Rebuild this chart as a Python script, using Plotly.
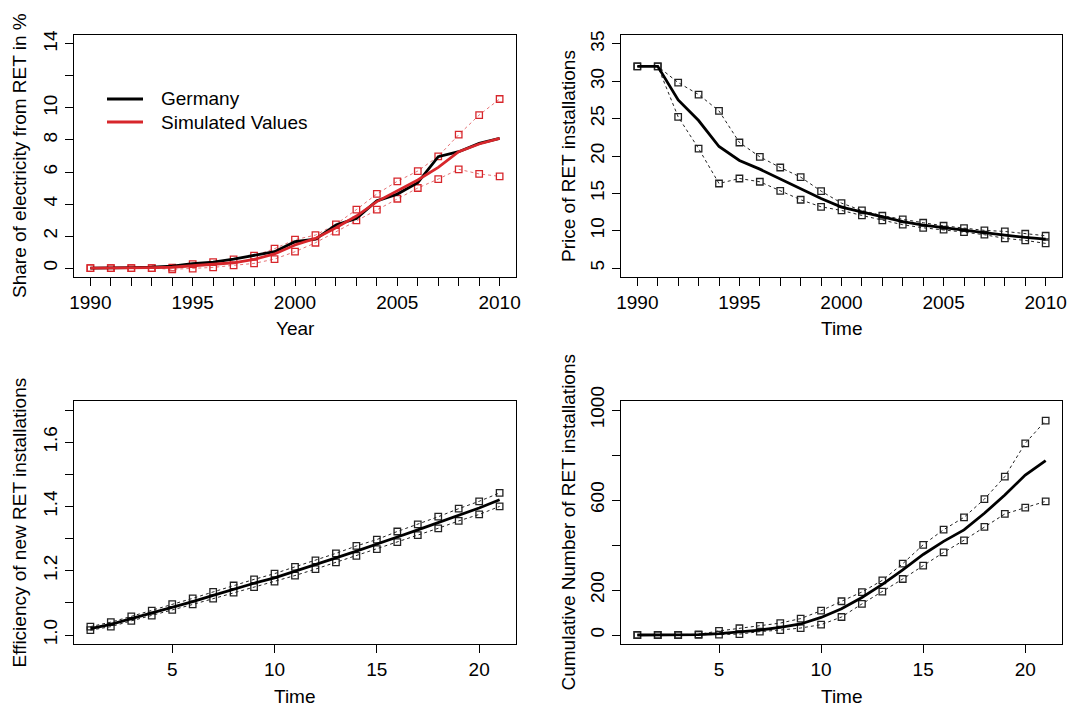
import plotly.graph_objects as go

# ---------------- data ----------------
years = list(range(1990, 2011))
steps = list(range(1, 22))

share_germany = [0, 0, 0.02, 0.05, 0.12, 0.27, 0.37, 0.56, 0.81, 1.02, 1.65, 1.81, 2.69, 3.1, 4.2, 4.62, 5.33, 6.96, 7.27, 7.79, 8.1]
share_sim = [0, 0, 0, 0.02, 0.05, 0.15, 0.23, 0.33, 0.54, 0.88, 1.44, 1.85, 2.52, 3.25, 4.15, 4.83, 5.5, 6.29, 7.27, 7.75, 8.1]
share_sim_hi = [0, 0, 0, 0, 0.02, 0.25, 0.37, 0.54, 0.77, 1.21, 1.77, 2.06, 2.73, 3.65, 4.63, 5.42, 6.06, 6.98, 8.33, 9.56, 10.56]
share_sim_lo = [0, 0, 0, 0, -0.08, -0.04, 0.04, 0.17, 0.29, 0.56, 1.02, 1.58, 2.27, 2.98, 3.65, 4.33, 5.0, 5.56, 6.17, 5.88, 5.73]

price_mid = [32, 32, 27.5, 24.75, 21.27, 19.4, 18.24, 16.95, 15.7, 14.32, 13.16, 12.49, 11.78, 11.2, 10.75, 10.39, 10.04, 9.68, 9.41, 9.1, 8.88]
price_hi = [32, 32, 29.83, 28.23, 26.04, 21.81, 19.89, 18.46, 17.17, 15.3, 13.69, 12.71, 12.0, 11.51, 11.06, 10.66, 10.35, 10.04, 9.9, 9.59, 9.32]
price_lo = [32, 32, 25.24, 21.0, 16.32, 16.99, 16.55, 15.34, 14.14, 13.2, 12.71, 12.04, 11.38, 10.8, 10.39, 10.13, 9.81, 9.46, 8.97, 8.7, 8.3]

eff_mid = [1.020, 1.033, 1.051, 1.068, 1.087, 1.104, 1.123, 1.143, 1.161, 1.178, 1.198, 1.218, 1.240, 1.261, 1.282, 1.305, 1.327, 1.350, 1.374, 1.395, 1.421]
eff_hi = [1.026, 1.040, 1.058, 1.076, 1.096, 1.114, 1.134, 1.154, 1.173, 1.191, 1.212, 1.232, 1.254, 1.277, 1.297, 1.322, 1.344, 1.368, 1.393, 1.416, 1.442]
eff_lo = [1.015, 1.026, 1.044, 1.060, 1.078, 1.095, 1.113, 1.132, 1.149, 1.166, 1.185, 1.205, 1.226, 1.246, 1.267, 1.289, 1.311, 1.332, 1.355, 1.375, 1.400]

cum_mid = [0, 0, 0, 2, 6, 13, 22, 34, 49, 78, 117, 167, 225, 289, 358, 416, 467, 541, 622, 711, 775]
cum_hi = [0, 0, 0, 3, 18, 30, 41, 53, 73, 108, 150, 191, 243, 317, 401, 468, 523, 604, 704, 852, 953]
cum_lo = [0, 0, 0, 1, 2, 4, 15, 22, 31, 46, 80, 138, 193, 249, 308, 367, 421, 481, 538, 566, 594]

year_ticks = years
year_labels = [str(y) if y % 5 == 0 else "" for y in years]
share_ticks = [0, 2, 4, 6, 8, 10, 12, 14]
share_labels = ["0", "2", "4", "6", "8", "10", "", "14"]
price_ticks = [5, 10, 15, 20, 25, 30, 35]
eff_ticks = [1.0, 1.1, 1.2, 1.3, 1.4, 1.5, 1.6, 1.7]
eff_labels = ["1.0", "", "1.2", "", "1.4", "", "1.6", ""]
cum_ticks = [0, 200, 400, 600, 800, 1000]
cum_labels = ["0", "200", "", "600", "", "1000"]
step_ticks = [5, 10, 15, 20]
legend_names = ["Germany", "Simulated Values"]

# ---------------- style ----------------
W, H = 1069, 706
FONT = "Liberation Sans, Arial, Helvetica, sans-serif"
RED = "#D7262B"
RED_LIGHT = "rgba(215,38,43,0.65)"
DARK = "#222222"
FS = 19

fig = go.Figure()


def bound(x, y, xa, ya, color, mcolor):
    fig.add_trace(go.Scatter(
        x=x, y=y, xaxis=xa, yaxis=ya, mode="lines+markers", showlegend=False,
        line=dict(color=color, width=1, dash="3px,3px"),
        marker=dict(symbol="square-open", size=6.5, color=mcolor, line=dict(width=1.3, color=mcolor)),
        hoverinfo="skip"))


def solid(x, y, xa, ya, color, name=None):
    fig.add_trace(go.Scatter(
        x=x, y=y, xaxis=xa, yaxis=ya, mode="lines", name=name, showlegend=False,
        line=dict(color=color, width=2.8)))


# panel 1
bound(years, share_sim_hi, "x", "y", RED_LIGHT, RED)
bound(years, share_sim_lo, "x", "y", RED_LIGHT, RED)
solid(years, share_germany, "x", "y", "black", legend_names[0])
solid(years, share_sim, "x", "y", RED, legend_names[1])

# panel 2
bound(years, price_hi, "x2", "y2", DARK, DARK)
bound(years, price_lo, "x2", "y2", DARK, DARK)
solid(years, price_mid, "x2", "y2", "black")

# panel 3
bound(steps, eff_hi, "x3", "y3", DARK, DARK)
bound(steps, eff_lo, "x3", "y3", DARK, DARK)
solid(steps, eff_mid, "x3", "y3", "black")

# panel 4
bound(steps, cum_hi, "x4", "y4", DARK, DARK)
bound(steps, cum_lo, "x4", "y4", DARK, DARK)
solid(steps, cum_mid, "x4", "y4", "black")


def px_x(p):
    return p / W


def px_y(p):
    return 1 - p / H


dom_x_left = [px_x(74), px_x(516)]
dom_x_right = [px_x(621), px_x(1062)]
dom_y_top = [px_y(277), px_y(35)]
dom_y_bot = [px_y(644), px_y(401)]


def axis(domain, rng, tickvals, ticktext, anchor, vertical=False):
    d = dict(domain=domain, range=rng, tickmode="array", tickvals=tickvals, ticktext=ticktext,
             showline=True, mirror=True, linecolor="black", linewidth=1,
             ticks="outside", ticklen=8, tickwidth=1, tickcolor="black",
             showgrid=False, zeroline=False, anchor=anchor, automargin=False,
             ticklabeloverflow="allow",
             tickfont=dict(family=FONT, size=FS, color="black"))
    if vertical:
        d["tickangle"] = -90
    return d


def ext(lo, hi):
    r = hi - lo
    return [lo - 0.04 * r, hi + 0.04 * r]


fig.update_layout(
    width=W, height=H, margin=dict(l=0, r=0, t=0, b=0, autoexpand=False),
    paper_bgcolor="white", plot_bgcolor="white",
    font=dict(family=FONT, size=FS, color="black"),
    xaxis=axis(dom_x_left, ext(1990, 2010), year_ticks, year_labels, "y"),
    yaxis=axis(dom_y_top, ext(0, 14), share_ticks, share_labels, "x", True),
    xaxis2=axis(dom_x_right, ext(1990, 2010), year_ticks, year_labels, "y2"),
    yaxis2=axis(dom_y_top, ext(5, 35), price_ticks, [str(v) for v in price_ticks], "x2", True),
    xaxis3=axis(dom_x_left, ext(1, 21), step_ticks, [str(v) for v in step_ticks], "y3"),
    yaxis3=axis(dom_y_bot, ext(1.0, 1.7), eff_ticks, eff_labels, "x3", True),
    xaxis4=axis(dom_x_right, ext(1, 21), step_ticks, [str(v) for v in step_ticks], "y4"),
    yaxis4=axis(dom_y_bot, ext(0, 1000), cum_ticks, cum_labels, "x4", True),
    showlegend=False,
)

# manual legend (R-style) in panel 1
for i, (name, col) in enumerate(zip(legend_names, ["black", RED])):
    yy = px_y(99 + 23 * i)
    fig.add_shape(type="line", xref="paper", yref="paper",
                  x0=px_x(107), x1=px_x(143), y0=yy, y1=yy,
                  line=dict(color=col, width=2.8))
    fig.add_annotation(text=name, x=px_x(159), y=yy, xref="paper", yref="paper",
                       xanchor="left", yanchor="middle", showarrow=False,
                       font=dict(family=FONT, size=FS, color="black"))

titles = [
    ("Year", px_x(295), px_y(328), 0),
    ("Time", px_x(841.5), px_y(328), 0),
    ("Time", px_x(295), px_y(696), 0),
    ("Time", px_x(841.5), px_y(696), 0),
    ("Share of electricity from RET in %", px_x(19), px_y(156), -90),
    ("Price of RET installations", px_x(568), px_y(156), -90),
    ("Efficiency of new RET installations", px_x(19), px_y(522.5), -90),
    ("Cumulative Number of RET installations", px_x(568), px_y(522.5), -90),
]
for text, x, y, ang in titles:
    fig.add_annotation(text=text, x=x, y=y, xref="paper", yref="paper",
                       xanchor="center", yanchor="middle", showarrow=False,
                       textangle=ang, font=dict(family=FONT, size=FS, color="black"))

# place the figure at the page origin (no default body margin / scrollbars)
fig.write_html("out.html", config={"displayModeBar": False},
               post_script="document.body.style.margin='0';document.body.style.overflow='hidden';")
